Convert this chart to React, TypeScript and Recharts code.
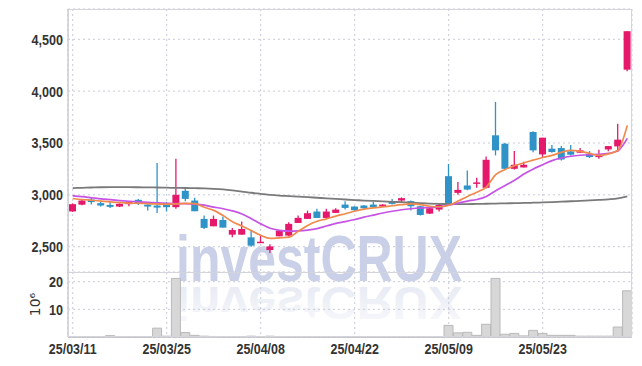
import { ComposedChart, BarChart, Bar, Line, XAxis, YAxis, CartesianGrid } from "recharts";

const dates = [
  "25/03/11", "25/03/12", "25/03/13", "25/03/14", "25/03/17", "25/03/18", "25/03/19", "25/03/20", "25/03/21", "25/03/24",
  "25/03/25", "25/03/26", "25/03/27", "25/03/28", "25/03/31", "25/04/01", "25/04/02", "25/04/03", "25/04/04", "25/04/07",
  "25/04/08", "25/04/09", "25/04/10", "25/04/11", "25/04/14", "25/04/15", "25/04/16", "25/04/17", "25/04/18", "25/04/21",
  "25/04/22", "25/04/23", "25/04/24", "25/04/25", "25/04/28", "25/04/29", "25/04/30", "25/05/02", "25/05/07", "25/05/08",
  "25/05/09", "25/05/12", "25/05/13", "25/05/14", "25/05/15", "25/05/16", "25/05/19", "25/05/20", "25/05/21", "25/05/22",
  "25/05/23", "25/05/26", "25/05/27", "25/05/28", "25/05/29", "25/05/30", "25/06/02", "25/06/04", "25/06/05", "25/06/09",
];

const open = [
  2840, 2905, 2955, 2920, 2903, 2887, 2910, 2952, 2906, 2897,
  2903, 2881, 3039, 2945, 2768, 2697, 2758, 2616, 2616, 2590,
  2542, 2468, 2600, 2607, 2729, 2768, 2839, 2777, 2826, 2906,
  2887, 2897, 2906, 2887, 2935, 2945, 2939, 2890, 2819, 2858,
  3180, 3019, 3090, 3109, 3068, 3574, 3493, 3251, 3264, 3606,
  3390, 3445, 3451, 3419, 3406, 3396, 3372, 3438, 3467, 4207,
];
const high = [
  2918, 2955, 2980, 2937, 2932, 2918, 2940, 2961, 2910, 3306,
  2932, 3348, 3058, 2971, 2800, 2800, 2790, 2681, 2742, 2655,
  2606, 2523, 2662, 2736, 2800, 2848, 2865, 2865, 2870, 2939,
  2890, 2903, 2935, 2910, 2960, 2975, 2945, 2895, 2880, 2913,
  3297, 3123, 3235, 3164, 3370, 3896, 3500, 3422, 3320, 3612,
  3551, 3480, 3470, 3480, 3452, 3422, 3435, 3470, 3686, 4578,
];
const low = [
  2836, 2900, 2906, 2887, 2874, 2882, 2890, 2903, 2848, 2826,
  2839, 2865, 2939, 2842, 2671, 2697, 2684, 2590, 2616, 2500,
  2540, 2439, 2600, 2600, 2729, 2768, 2777, 2777, 2826, 2858,
  2845, 2865, 2877, 2883, 2908, 2930, 2848, 2800, 2815, 2840,
  2905, 3000, 3045, 3068, 3060, 3380, 3245, 3245, 3264, 3410,
  3365, 3406, 3330, 3380, 3406, 3355, 3348, 3420, 3413, 4192,
];
const close = [
  2910, 2945, 2930, 2897, 2884, 2913, 2935, 2913, 2887, 2877,
  2881, 3000, 2961, 2842, 2681, 2768, 2684, 2661, 2671, 2510,
  2548, 2503, 2655, 2720, 2778, 2823, 2777, 2839, 2858, 2874,
  2852, 2871, 2881, 2906, 2913, 2968, 2890, 2806, 2871, 2903,
  2913, 3048, 3051, 3120, 3338, 3429, 3251, 3290, 3290, 3429,
  3551, 3413, 3341, 3387, 3429, 3364, 3378, 3470, 3532, 4578,
];

const ma5 = [
  2965, 2955, 2948, 2940, 2932, 2925, 2920, 2918, 2915, 2912,
  2910, 2912, 2918, 2915, 2880, 2850, 2800, 2740, 2700, 2655,
  2610, 2580, 2585, 2592, 2650, 2705, 2745, 2768, 2795, 2818,
  2842, 2862, 2874, 2884, 2895, 2905, 2912, 2905, 2890, 2885,
  2900, 2940, 2985, 3025, 3075, 3195, 3245, 3280, 3310, 3335,
  3360, 3380, 3410, 3428, 3420, 3400, 3380, 3395, 3430, 3670,
];
const ma20 = [
  2990, 2982, 2972, 2962, 2953, 2945, 2938, 2932, 2927, 2922,
  2918, 2915, 2915, 2910, 2900, 2882, 2866, 2845, 2815, 2770,
  2720, 2678, 2658, 2650, 2652, 2660, 2675, 2700, 2725, 2742,
  2762, 2785, 2805, 2825, 2842, 2856, 2866, 2873, 2878, 2884,
  2900, 2920, 2940, 2955, 2985, 3040, 3090, 3140, 3200, 3250,
  3290, 3330, 3355, 3372, 3382, 3387, 3390, 3400, 3425, 3545,
];
const ma60 = [
  3065, 3068, 3071, 3073, 3074, 3074, 3074, 3073, 3072, 3071,
  3069, 3067, 3066, 3064, 3062, 3058, 3052, 3043, 3032, 3020,
  3010, 3000, 2993, 2988, 2983, 2978, 2972, 2966, 2961, 2955,
  2950, 2945, 2941, 2937, 2933, 2929, 2925, 2920, 2916, 2913,
  2910, 2910, 2911, 2912, 2914, 2916, 2918, 2920, 2922, 2924,
  2927, 2930, 2934, 2938, 2942, 2946, 2951, 2957, 2966, 2985,
];

// millions of shares
const volume = [
  0.05, 0.05, 0.05, 0.05, 0.5, 0.05, 0.05, 0.05, 0.05, 3.2,
  0.3, 21.2, 1.6, 0.6, 0.3, 0.2, 0.1, 0.1, 0.1, 0.3,
  0.1, 0.3, 0.1, 0.1, 0.1, 0.1, 0.1, 0.1, 0.1, 0.1,
  0.1, 0.1, 0.1, 0.1, 0.1, 0.1, 0.1, 0.1, 0.1, 0.1,
  4.2, 1.5, 1.7, 0.6, 4.6, 21.2, 1.0, 1.3, 0.4, 2.4,
  1.3, 0.6, 0.6, 0.6, 0.3, 0.3, 0.3, 0.3, 3.6, 16.7,
];

const priceTicks = [2500, 3000, 3500, 4000, 4500];
const volTicks = [10, 20];
const dateTicks = ["25/03/11", "25/03/25", "25/04/08", "25/04/22", "25/05/09", "25/05/23"];

const rows = dates.map((date, i) => ({
  date,
  open: open[i],
  high: high[i],
  low: low[i],
  close: close[i],
  ma5: ma5[i],
  ma20: ma20[i],
  ma60: ma60[i],
  vol: volume[i],
}));

const RED = "#e5186b";
const BLUE = "#2f93c7";
const FONT = "'Liberation Sans', Arial, sans-serif";
const GRID = "#c8cad8";
const MARK = "'Liberation Sans', Arial, sans-serif";

// narrow tick text, squeezed horizontally like the original condensed face
function YTick({ x, y, payload }: any) {
  const label = Number(payload.value).toLocaleString("en-US");
  return (
    <text transform={`translate(${x},${y}) scale(0.84,1)`} textAnchor="end" dy="0.36em"
      fontFamily={FONT} fontSize={15} fontWeight={700} fill="#333">{label}</text>
  );
}

function XTick({ x, y, payload }: any) {
  return (
    <text transform={`translate(${x},${y}) scale(0.83,1)`} textAnchor="middle" dy="0.75em"
      fontFamily={FONT} fontSize={15} fontWeight={700} fill="#333">{payload.value}</text>
  );
}

function Candle(props: any) {
  const { x, y, width, height, payload } = props;
  if (!payload) return null;
  const { open: o, close: c, high: h, low: l } = payload;
  const color = c >= o ? RED : BLUE;
  const top = Math.min(y, y + height);
  const span = Math.abs(height);
  const range = h - l;
  const toY = (v: number) => (range === 0 ? top : top + ((h - v) / range) * span);
  const cx = x + width / 2;
  const bw = 7;
  const bTop = toY(Math.max(o, c));
  const bBot = toY(Math.min(o, c));
  return (
    <g>
      <line x1={cx} x2={cx} y1={top} y2={top + span} stroke={color} strokeWidth={1.3} />
      <rect x={cx - bw / 2} y={bTop} width={bw} height={Math.max(bBot - bTop, 1.5)} fill={color} />
    </g>
  );
}

export default function App() {
  return (
    <div style={{ position: "absolute", left: 0, top: 0, width: 642, height: 366, background: "#fff" }}>
      <svg width={642} height={366} style={{ position: "absolute", left: 0, top: 0 }}>
        <defs>
          <linearGradient id="fade" x1="0" y1="0" x2="0" y2="1">
            <stop offset="0" stopColor="#c9d0e7" stopOpacity={0.15} />
            <stop offset="1" stopColor="#c9d0e7" stopOpacity={0.7} />
          </linearGradient>
        </defs>
        <text x={176} y={281} fontFamily={MARK} fontWeight={700} fontSize={64}
          textLength={286} lengthAdjust="spacingAndGlyphs" fill="#c9d0e7">investCRUX</text>
        <g transform="translate(0 489) scale(1 -0.72)">
          <text x={176} y={281} fontFamily={MARK} fontWeight={700} fontSize={64}
            textLength={286} lengthAdjust="spacingAndGlyphs" fill="url(#fade)" opacity={0.7}>investCRUX</text>
        </g>
      </svg>

      <div style={{ position: "absolute", left: 0, top: 0 }}>
        <ComposedChart width={642} height={272} data={rows} margin={{ top: 9, right: 10, left: 0, bottom: 0 }} barCategoryGap="0%">
          <CartesianGrid stroke={GRID} strokeDasharray="2 3" />
          <XAxis dataKey="date" hide ticks={dateTicks} interval={0} />
          <YAxis domain={[2256, 4792]} ticks={priceTicks} width={68} tickLine={false} tickSize={0} tickMargin={5}
            axisLine={{ stroke: "#bbb" }} tick={<YTick />} allowDataOverflow />
          <Bar dataKey={(d: any) => [d.low, d.high]} shape={Candle} isAnimationActive={false} />
          <Line type="monotone" dataKey="ma60" stroke="#7a7a7a" strokeWidth={1.8} dot={false} isAnimationActive={false} />
          <Line type="monotone" dataKey="ma20" stroke="#c752e6" strokeWidth={1.7} dot={false} isAnimationActive={false} />
          <Line type="monotone" dataKey="ma5" stroke="#f08a4c" strokeWidth={1.7} dot={false} isAnimationActive={false} />
        </ComposedChart>
      </div>

      <div style={{ position: "absolute", left: 0, top: 272 }}>
        <BarChart width={642} height={94} data={rows} margin={{ top: 0, right: 10, left: 0, bottom: 0 }} barCategoryGap={0}>
          <CartesianGrid stroke={GRID} strokeDasharray="2 3" />
          <XAxis dataKey="date" ticks={dateTicks} interval={0} height={29} tickLine={false} tickSize={0} tickMargin={6}
            axisLine={{ stroke: "#bbb" }} tick={<XTick />} />
          <YAxis domain={[0, 23.5]} ticks={volTicks} width={68} tickLine={false} tickSize={0} tickMargin={5}
            axisLine={{ stroke: "#bbb" }} tick={<YTick />}
            label={{ value: "10⁶", angle: -90, position: "center", dx: 1, style: { fontFamily: "'DejaVu Sans', sans-serif", fontSize: 14, fill: "#333" } }} />
          <Bar dataKey="vol" fill="#d7d7d7" stroke="#b9b9b9" strokeWidth={1} isAnimationActive={false} />
        </BarChart>
      </div>

      <div style={{ position: "absolute", left: 68, top: 9, width: 564, height: 328, border: "1px solid #d4d4dc", boxSizing: "border-box", pointerEvents: "none" }} />
      <div style={{ position: "absolute", left: 68, top: 272, width: 564, height: 1, background: "#d4d4dc" }} />
    </div>
  );
}
